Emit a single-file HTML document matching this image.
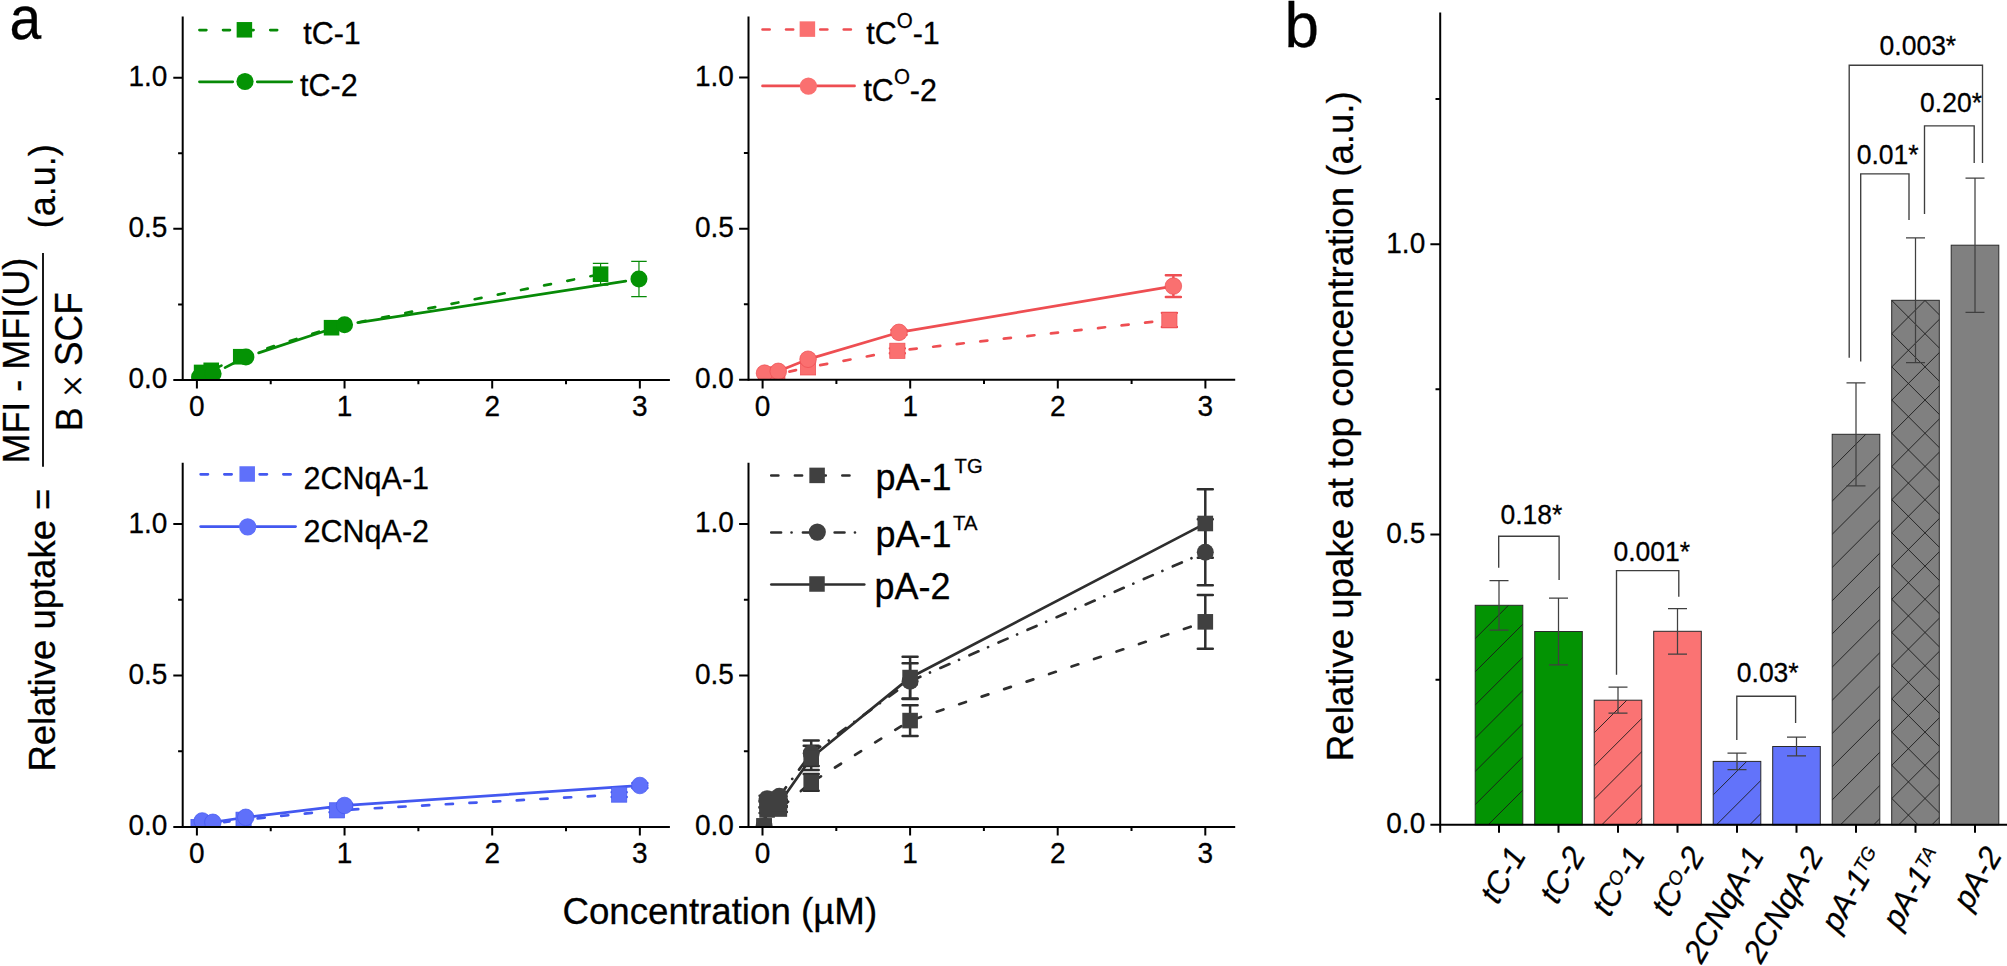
<!DOCTYPE html>
<html lang="en"><head><meta charset="utf-8"><title>Relative uptake figure</title>
<style>html,body{margin:0;padding:0;background:#fff}body{width:2007px;height:966px;overflow:hidden}svg{display:block}text{font-family:'Liberation Sans', Arial, sans-serif;fill:#000;stroke:#000;stroke-width:0.28px}</style>
</head><body>
<svg width="2007" height="966" viewBox="0 0 2007 966">
<rect width="2007" height="966" fill="#fff"/>
<defs>
<clipPath id="ctl"><rect x="182.7" y="16.4" width="507.2" height="362.8"/></clipPath>
<clipPath id="ctr"><rect x="748.5" y="16.4" width="506.7" height="362.6"/></clipPath>
<clipPath id="cbl"><rect x="182.7" y="462.7" width="507.2" height="363.5"/></clipPath>
<clipPath id="cbr"><rect x="748.5" y="462.7" width="506.7" height="363.4"/></clipPath>
</defs>
<text transform="translate(9.6 39.2) scale(0.92 1)" font-size="62">a</text>
<text transform="translate(1284.4 46.6) scale(1 1.02)" font-size="62">b</text>
<g font-size="36">
<text transform="translate(54.7 771.6) rotate(-90) scale(1 1.02)" font-size="36.5">Relative uptake =</text>
<text transform="translate(29.2 463.6) rotate(-90) scale(1 1.04)">MFI - MFI(U)</text>
<text transform="translate(81.5 431.2) rotate(-90) scale(1 1.04)" font-size="36">B <tspan font-family="'Liberation Serif', serif" font-size="40" dx="0" dy="4.8">×</tspan><tspan dx="-1.7" dy="-4.8" font-size="36.9"> SCF</tspan></text>
<text transform="translate(54.7 228.2) rotate(-90) scale(1 1.02)">(a.u.)</text>
</g>
<path d="M43 252.9V466.8" stroke="#000" stroke-width="1.8"/>
<text transform="translate(719.8 924.4) scale(1 1.02)" font-size="36.7" text-anchor="middle">Concentration (µM)</text>
<g clip-path="url(#ctl)">
<line x1="205.87" y1="371.51" x2="206.97" y2="371.26" stroke="#078a07" stroke-width="2.7" stroke-linecap="round" stroke-dasharray="6.9 16.7"/>
<line x1="215.17" y1="368.51" x2="236.8" y2="358.54" stroke="#078a07" stroke-width="2.7" stroke-linecap="round" stroke-dasharray="6.9 16.7"/>
<line x1="244.9" y1="355.4" x2="327.41" y2="329.03" stroke="#078a07" stroke-width="2.7" stroke-linecap="round" stroke-dasharray="6.9 16.7"/>
<line x1="335.82" y1="326.85" x2="596.31" y2="275.04" stroke="#078a07" stroke-width="2.7" stroke-linecap="round" stroke-dasharray="6.9 16.7"/>
<line x1="225.05" y1="367.61" x2="234.01" y2="363.06" stroke="#078a07" stroke-width="2.7" stroke-linecap="round"/>
<line x1="258.61" y1="352.87" x2="331.86" y2="328.84" stroke="#078a07" stroke-width="2.7" stroke-linecap="round"/>
<line x1="357.74" y1="322.63" x2="625.77" y2="281.08" stroke="#078a07" stroke-width="2.7" stroke-linecap="round"/>
<path d="M600.58 263.31V285.08M592.83 263.31h15.5M592.83 285.08h15.5" stroke="#078a07" stroke-width="1.2" fill="none"/>
<path d="M638.96 261.35V296.72M631.21 261.35h15.5M631.21 296.72h15.5" stroke="#078a07" stroke-width="1.2" fill="none"/>
<rect x="193.82" y="364.64" width="15.6" height="15.6" fill="#049304"/>
<rect x="203.42" y="362.53" width="15.6" height="15.6" fill="#049304"/>
<rect x="232.95" y="348.92" width="15.6" height="15.6" fill="#049304"/>
<rect x="323.76" y="319.9" width="15.6" height="15.6" fill="#049304"/>
<rect x="592.78" y="266.39" width="15.6" height="15.6" fill="#049304"/>
<circle cx="199.56" cy="376.98" r="8.5" fill="#049304"/>
<circle cx="213.14" cy="373.65" r="8.5" fill="#049304"/>
<circle cx="245.92" cy="357.03" r="8.5" fill="#049304"/>
<circle cx="344.55" cy="324.68" r="8.5" fill="#049304"/>
<circle cx="638.96" cy="279.03" r="8.5" fill="#049304"/>
</g>
<g stroke="#000" stroke-width="2" fill="none">
<path d="M182.7 16.4V381"/>
<path d="M173.3 380H669.9"/>
<path d="M173.3 228.85H182.7M173.3 77.7H182.7M178.1 304.43H182.7M178.1 153.27H182.7M196.9 380V388.6M344.55 380V388.6M492.2 380V388.6M639.85 380V388.6M270.73 380V384.2M418.38 380V384.2M566.02 380V384.2"/>
</g>
<g font-size="28" text-anchor="end">
<text transform="translate(167.4 388.4) scale(1 1.04)">0.0</text>
<text transform="translate(167.4 237.25) scale(1 1.04)">0.5</text>
<text transform="translate(167.4 86.1) scale(1 1.04)">1.0</text>
</g>
<g font-size="28" text-anchor="middle">
<text transform="translate(196.9 416.1) scale(1 1.04)">0</text>
<text transform="translate(344.55 416.1) scale(1 1.04)">1</text>
<text transform="translate(492.2 416.1) scale(1 1.04)">2</text>
<text transform="translate(639.85 416.1) scale(1 1.04)">3</text>
</g>
<line x1="199.45" y1="30.1" x2="277.85" y2="30.1" stroke="#078a07" stroke-width="2.7" stroke-linecap="round" stroke-dasharray="6.9 16.7"/>
<rect x="236.65" y="22.05" width="15.5" height="15.5" fill="#049304"/>
<path d="M199.45 81.8H232.75M257.25 81.8H291.75" stroke="#078a07" stroke-width="2.7" stroke-linecap="round" fill="none"/>
<circle cx="245" cy="81.5" r="8.6" fill="#049304"/>
<g font-size="30.5">
<text transform="translate(303.2 44.4) scale(1 1.04)">tC-1</text>
<text transform="translate(300 95.9) scale(1 1.04)">tC-2</text>
</g>
<g clip-path="url(#ctr)">
<line x1="789.4" y1="371.63" x2="796.02" y2="370.13" stroke="#ee4e52" stroke-width="2.7" stroke-linecap="round" stroke-dasharray="7.1 16.6"/>
<line x1="820.2" y1="365.15" x2="885.22" y2="353.04" stroke="#ee4e52" stroke-width="2.7" stroke-linecap="round" stroke-dasharray="7.1 16.6"/>
<line x1="909.63" y1="349.39" x2="1157.11" y2="321.34" stroke="#ee4e52" stroke-width="2.7" stroke-linecap="round" stroke-dasharray="7.1 16.6"/>
<line x1="765.86" y1="372.97" x2="776.91" y2="371.51" stroke="#ee4e52" stroke-width="2.7" stroke-linecap="round"/>
<line x1="779.5" y1="370.83" x2="806.81" y2="359.75" stroke="#ee4e52" stroke-width="2.7" stroke-linecap="round"/>
<line x1="809.36" y1="358.86" x2="897.69" y2="332.72" stroke="#ee4e52" stroke-width="2.7" stroke-linecap="round"/>
<line x1="900.31" y1="332.11" x2="1172.04" y2="286.31" stroke="#ee4e52" stroke-width="2.7" stroke-linecap="round"/>
<path d="M897.36 348.36V353.2M889.81 348.36h15.1M889.81 353.2h15.1M1169.39 312.84V327.05M1161.84 312.84h15.1M1161.84 327.05h15.1" stroke="#ee4e52" stroke-width="2.4" fill="none" stroke-linecap="round"/>
<path d="M898.98 329.92V334.76M891.43 329.92h15.1M891.43 334.76h15.1M1173.37 275.2V296.97M1165.82 275.2h15.1M1165.82 296.97h15.1" stroke="#ee4e52" stroke-width="2.4" fill="none" stroke-linecap="round"/>
<rect x="758.25" y="368.57" width="15.2" height="15.2" fill="#fa7070" stroke="#ee4e52" stroke-width="0.7"/>
<rect x="769.76" y="366.76" width="15.2" height="15.2" fill="#fa7070" stroke="#ee4e52" stroke-width="0.7"/>
<rect x="800.46" y="359.81" width="15.2" height="15.2" fill="#fa7070" stroke="#ee4e52" stroke-width="0.7"/>
<rect x="889.76" y="343.18" width="15.2" height="15.2" fill="#fa7070" stroke="#ee4e52" stroke-width="0.7"/>
<rect x="1161.79" y="312.34" width="15.2" height="15.2" fill="#fa7070" stroke="#ee4e52" stroke-width="0.7"/>
<circle cx="764.52" cy="373.15" r="8.3" fill="#fa7070" stroke="#ee4e52" stroke-width="0.7"/>
<circle cx="778.25" cy="371.34" r="8.3" fill="#fa7070" stroke="#ee4e52" stroke-width="0.7"/>
<circle cx="808.06" cy="359.24" r="8.3" fill="#fa7070" stroke="#ee4e52" stroke-width="0.7"/>
<circle cx="898.98" cy="332.34" r="8.3" fill="#fa7070" stroke="#ee4e52" stroke-width="0.7"/>
<circle cx="1173.37" cy="286.09" r="8.3" fill="#fa7070" stroke="#ee4e52" stroke-width="0.7"/>
</g>
<g stroke="#000" stroke-width="2" fill="none">
<path d="M748.5 16.4V380.8"/>
<path d="M739.1 379.8H1235.2"/>
<path d="M739.1 228.65H748.5M739.1 77.5H748.5M743.9 304.23H748.5M743.9 153.07H748.5M762.6 379.8V388.4M910.2 379.8V388.4M1057.8 379.8V388.4M1205.4 379.8V388.4M836.4 379.8V384M984 379.8V384M1131.6 379.8V384"/>
</g>
<g font-size="28" text-anchor="end">
<text transform="translate(733.8 388.2) scale(1 1.04)">0.0</text>
<text transform="translate(733.8 237.05) scale(1 1.04)">0.5</text>
<text transform="translate(733.8 85.9) scale(1 1.04)">1.0</text>
</g>
<g font-size="28" text-anchor="middle">
<text transform="translate(762.6 415.9) scale(1 1.04)">0</text>
<text transform="translate(910.2 415.9) scale(1 1.04)">1</text>
<text transform="translate(1057.8 415.9) scale(1 1.04)">2</text>
<text transform="translate(1205.4 415.9) scale(1 1.04)">3</text>
</g>
<path d="M762.55 29.5H794.55M820.25 29.5H851.25" stroke="#ee4e52" stroke-width="2.7" stroke-linecap="round" fill="none" stroke-dasharray="7.1 16.4"/>
<rect x="799.65" y="21.35" width="15.5" height="15.5" fill="#fa7070"/>
<line x1="762.55" y1="85.9" x2="854.55" y2="85.9" stroke="#ee4e52" stroke-width="2.7" stroke-linecap="round"/>
<circle cx="808.4" cy="86.2" r="8.6" fill="#fa7070"/>
<g font-size="30.5">
<text transform="translate(866.2 44.4) scale(1 1.04)">tC<tspan font-size="20.5" dy="-15.8">O</tspan><tspan dy="15.8">-1</tspan></text>
<text transform="translate(863.4 100.5) scale(1 1.04)">tC<tspan font-size="20.5" dy="-15.8">O</tspan><tspan dy="15.8">-2</tspan></text>
</g>
<g clip-path="url(#cbl)">
<line x1="224.23" y1="822.19" x2="229.52" y2="821.51" stroke="#4358f0" stroke-width="2.7" stroke-linecap="round" stroke-dasharray="7.1 16.6"/>
<line x1="257.64" y1="818.32" x2="322.94" y2="811.75" stroke="#4358f0" stroke-width="2.7" stroke-linecap="round" stroke-dasharray="7.1 16.6"/>
<line x1="351.15" y1="809.55" x2="605.05" y2="795.38" stroke="#4358f0" stroke-width="2.7" stroke-linecap="round" stroke-dasharray="7.1 16.6"/>
<line x1="203.55" y1="821.11" x2="211.51" y2="822.13" stroke="#4358f0" stroke-width="2.7" stroke-linecap="round"/>
<line x1="214.18" y1="822.1" x2="244.44" y2="817.51" stroke="#4358f0" stroke-width="2.7" stroke-linecap="round"/>
<line x1="247.11" y1="817.15" x2="343.21" y2="805.65" stroke="#4358f0" stroke-width="2.7" stroke-linecap="round"/>
<line x1="345.9" y1="805.4" x2="638.5" y2="785.59" stroke="#4358f0" stroke-width="2.7" stroke-linecap="round"/>
<path d="M337.02 808.52V812.16M329.47 808.52h15.1M329.47 812.16h15.1M619.18 792.17V797.01M611.63 792.17h15.1M611.63 797.01h15.1" stroke="#4358f0" stroke-width="2.4" fill="none" stroke-linecap="round"/>
<path d="M344.55 803.68V807.31M337 803.68h15.1M337 807.31h15.1M639.85 783.08V787.93M632.3 783.08h15.1M632.3 787.93h15.1" stroke="#4358f0" stroke-width="2.4" fill="none" stroke-linecap="round"/>
<rect x="190.92" y="819.4" width="15.2" height="15.2" fill="#5f70fa" stroke="#4358f0" stroke-width="0.7"/>
<rect x="202.59" y="816.37" width="15.2" height="15.2" fill="#5f70fa" stroke="#4358f0" stroke-width="0.7"/>
<rect x="235.96" y="812.13" width="15.2" height="15.2" fill="#5f70fa" stroke="#4358f0" stroke-width="0.7"/>
<rect x="329.42" y="802.74" width="15.2" height="15.2" fill="#5f70fa" stroke="#4358f0" stroke-width="0.7"/>
<rect x="611.58" y="786.99" width="15.2" height="15.2" fill="#5f70fa" stroke="#4358f0" stroke-width="0.7"/>
<circle cx="202.22" cy="820.94" r="8.3" fill="#5f70fa" stroke="#4358f0" stroke-width="0.7"/>
<circle cx="212.85" cy="822.31" r="8.3" fill="#5f70fa" stroke="#4358f0" stroke-width="0.7"/>
<circle cx="245.77" cy="817.31" r="8.3" fill="#5f70fa" stroke="#4358f0" stroke-width="0.7"/>
<circle cx="344.55" cy="805.49" r="8.3" fill="#5f70fa" stroke="#4358f0" stroke-width="0.7"/>
<circle cx="639.85" cy="785.5" r="8.3" fill="#5f70fa" stroke="#4358f0" stroke-width="0.7"/>
</g>
<g stroke="#000" stroke-width="2" fill="none">
<path d="M182.7 462.7V828"/>
<path d="M173.3 827H669.9"/>
<path d="M173.3 675.55H182.7M173.3 524.1H182.7M178.1 751.27H182.7M178.1 599.83H182.7M196.9 827V835.6M344.55 827V835.6M492.2 827V835.6M639.85 827V835.6M270.73 827V831.2M418.38 827V831.2M566.02 827V831.2"/>
</g>
<g font-size="28" text-anchor="end">
<text transform="translate(167.4 835.4) scale(1 1.04)">0.0</text>
<text transform="translate(167.4 683.95) scale(1 1.04)">0.5</text>
<text transform="translate(167.4 532.5) scale(1 1.04)">1.0</text>
</g>
<g font-size="28" text-anchor="middle">
<text transform="translate(196.9 863.1) scale(1 1.04)">0</text>
<text transform="translate(344.55 863.1) scale(1 1.04)">1</text>
<text transform="translate(492.2 863.1) scale(1 1.04)">2</text>
<text transform="translate(639.85 863.1) scale(1 1.04)">3</text>
</g>
<path d="M200.65 474.3H234.75M259.65 474.3H291.15" stroke="#4358f0" stroke-width="2.7" stroke-linecap="round" fill="none" stroke-dasharray="7.3 16.4"/>
<rect x="239.45" y="466.25" width="15.5" height="15.5" fill="#5f70fa"/>
<line x1="200.65" y1="526.6" x2="295.55" y2="526.6" stroke="#4358f0" stroke-width="2.7" stroke-linecap="round"/>
<circle cx="247.7" cy="526.8" r="8.6" fill="#5f70fa"/>
<g font-size="30.5">
<text transform="translate(303.6 488.6) scale(1 1.04)">2CNqA-1</text>
<text transform="translate(303.6 541.8) scale(1 1.04)">2CNqA-2</text>
</g>
<g clip-path="url(#cbr)">
<line x1="764.91" y1="821.71" x2="766.29" y2="814.22" stroke="#2e2e2e" stroke-width="2.7" stroke-linecap="round" stroke-dasharray="7.1 16.6"/>
<line x1="771.41" y1="809.62" x2="774.99" y2="809.35" stroke="#2e2e2e" stroke-width="2.7" stroke-linecap="round" stroke-dasharray="7.1 16.6"/>
<line x1="782.66" y1="806.24" x2="807.87" y2="785.16" stroke="#2e2e2e" stroke-width="2.7" stroke-linecap="round" stroke-dasharray="7.1 16.6"/>
<line x1="814.9" y1="780.07" x2="906.41" y2="722.89" stroke="#2e2e2e" stroke-width="2.7" stroke-linecap="round" stroke-dasharray="7.1 16.6"/>
<line x1="914.23" y1="719.2" x2="1201.17" y2="623.22" stroke="#2e2e2e" stroke-width="2.7" stroke-linecap="round" stroke-dasharray="7.1 16.6"/>
<line x1="764.27" y1="824.65" x2="766.93" y2="800.07" stroke="#2e2e2e" stroke-width="2.7" stroke-linecap="round" stroke-dasharray="9.8 10.5 0.01 11.4"/>
<line x1="768.4" y1="798.46" x2="778" y2="796.49" stroke="#2e2e2e" stroke-width="2.7" stroke-linecap="round" stroke-dasharray="9.8 10.5 0.01 11.4"/>
<line x1="780.13" y1="795.13" x2="810.4" y2="754.38" stroke="#2e2e2e" stroke-width="2.7" stroke-linecap="round" stroke-dasharray="9.8 10.5 0.01 11.4"/>
<line x1="812.3" y1="752.5" x2="909.01" y2="682" stroke="#2e2e2e" stroke-width="2.7" stroke-linecap="round" stroke-dasharray="9.8 10.5 0.01 11.4"/>
<line x1="911.34" y1="680.66" x2="1204.06" y2="552.71" stroke="#2e2e2e" stroke-width="2.7" stroke-linecap="round" stroke-dasharray="9.8 10.5 0.01 11.4"/>
<line x1="764.3" y1="824.65" x2="766.89" y2="805.52" stroke="#2e2e2e" stroke-width="2.7" stroke-linecap="round"/>
<line x1="768.42" y1="804.08" x2="777.98" y2="803.37" stroke="#2e2e2e" stroke-width="2.7" stroke-linecap="round"/>
<line x1="780.1" y1="802.17" x2="810.43" y2="758.94" stroke="#2e2e2e" stroke-width="2.7" stroke-linecap="round"/>
<line x1="812.26" y1="756.99" x2="909.05" y2="678.42" stroke="#2e2e2e" stroke-width="2.7" stroke-linecap="round"/>
<line x1="911.3" y1="676.95" x2="1204.1" y2="524.11" stroke="#2e2e2e" stroke-width="2.7" stroke-linecap="round"/>
<path d="M767.08 806.91V812.97M759.58 806.91h15M759.58 812.97h15M779.33 806V812.06M771.83 806h15M771.83 812.06h15M811.21 773.89V790.85M803.71 773.89h15M803.71 790.85h15M910.1 705.13V736.03M902.6 705.13h15M902.6 736.03h15M1205.3 595.03V648.64M1197.8 595.03h15M1197.8 648.64h15" stroke="#2e2e2e" stroke-width="2.5" fill="none" stroke-linecap="round"/>
<path d="M767.08 795.7V801.76M759.58 795.7h15M759.58 801.76h15M779.33 792.58V799.85M771.83 792.58h15M771.83 799.85h15M811.21 740.57V766.02M803.71 740.57h15M803.71 766.02h15M910.1 663.33V699.08M902.6 663.33h15M902.6 699.08h15M1205.3 519.15V585.19M1197.8 519.15h15M1197.8 585.19h15" stroke="#2e2e2e" stroke-width="2.5" fill="none" stroke-linecap="round"/>
<path d="M767.08 800.55V807.82M759.58 800.55h15M759.58 807.82h15M779.33 799.64V806.91M771.83 799.64h15M771.83 806.91h15M811.21 745.72V769.95M803.71 745.72h15M803.71 769.95h15M910.1 656.67V698.47M902.6 656.67h15M902.6 698.47h15M1205.3 489.26V557.71M1197.8 489.26h15M1197.8 557.71h15" stroke="#2e2e2e" stroke-width="2.5" fill="none" stroke-linecap="round"/>
<rect x="756.32" y="818.19" width="15.6" height="15.6" fill="#404040"/>
<rect x="759.28" y="802.14" width="15.6" height="15.6" fill="#404040"/>
<rect x="771.53" y="801.23" width="15.6" height="15.6" fill="#404040"/>
<rect x="803.41" y="774.57" width="15.6" height="15.6" fill="#404040"/>
<rect x="902.3" y="712.78" width="15.6" height="15.6" fill="#404040"/>
<rect x="1197.5" y="614.04" width="15.6" height="15.6" fill="#404040"/>
<circle cx="764.12" cy="825.99" r="8.5" fill="#404040"/>
<circle cx="767.08" cy="798.73" r="8.5" fill="#404040"/>
<circle cx="779.33" cy="796.22" r="8.5" fill="#404040"/>
<circle cx="811.21" cy="753.3" r="8.5" fill="#404040"/>
<circle cx="910.1" cy="681.21" r="8.5" fill="#404040"/>
<circle cx="1205.3" cy="552.17" r="8.5" fill="#404040"/>
<rect x="756.32" y="818.19" width="15.6" height="15.6" fill="#404040"/>
<rect x="759.28" y="796.38" width="15.6" height="15.6" fill="#404040"/>
<rect x="771.53" y="795.47" width="15.6" height="15.6" fill="#404040"/>
<rect x="803.41" y="750.04" width="15.6" height="15.6" fill="#404040"/>
<rect x="902.3" y="669.77" width="15.6" height="15.6" fill="#404040"/>
<rect x="1197.5" y="515.69" width="15.6" height="15.6" fill="#404040"/>
</g>
<g stroke="#000" stroke-width="2" fill="none">
<path d="M748.5 462.7V827.9"/>
<path d="M739.1 826.9H1235.2"/>
<path d="M739.1 675.45H748.5M739.1 524H748.5M743.9 751.17H748.5M743.9 599.73H748.5M762.5 826.9V835.5M910.1 826.9V835.5M1057.7 826.9V835.5M1205.3 826.9V835.5M836.3 826.9V831.1M983.9 826.9V831.1M1131.5 826.9V831.1"/>
</g>
<g font-size="28" text-anchor="end">
<text transform="translate(733.8 835.3) scale(1 1.04)">0.0</text>
<text transform="translate(733.8 683.85) scale(1 1.04)">0.5</text>
<text transform="translate(733.8 532.4) scale(1 1.04)">1.0</text>
</g>
<g font-size="28" text-anchor="middle">
<text transform="translate(762.5 863) scale(1 1.04)">0</text>
<text transform="translate(910.1 863) scale(1 1.04)">1</text>
<text transform="translate(1057.7 863) scale(1 1.04)">2</text>
<text transform="translate(1205.3 863) scale(1 1.04)">3</text>
</g>
<line x1="771.25" y1="475.5" x2="849.95" y2="475.5" stroke="#2e2e2e" stroke-width="2.7" stroke-linecap="round" stroke-dasharray="7.1 16.6"/>
<rect x="809.35" y="467.65" width="15.5" height="15.5" fill="#404040"/>
<line x1="771.25" y1="532.5" x2="864.65" y2="532.5" stroke="#2e2e2e" stroke-width="2.7" stroke-linecap="round" stroke-dasharray="9.8 10.5 0.01 11.4"/>
<circle cx="817.3" cy="532.1" r="8.6" fill="#404040"/>
<line x1="771.35" y1="584.5" x2="864.25" y2="584.5" stroke="#2e2e2e" stroke-width="2.7" stroke-linecap="round"/>
<rect x="809.25" y="576.25" width="15.5" height="15.5" fill="#404040"/>
<g font-size="36">
<text transform="translate(875.6 490) scale(1 1.04)">pA-1<tspan font-size="20.2" dx="3" dy="-16.6">TG</tspan></text>
<text transform="translate(875.6 547.3) scale(1 1.04)">pA-1<tspan font-size="20.2" dx="1.5" dy="-16.9">TA</tspan></text>
<text transform="translate(874.4 598.6) scale(1 1.04)">pA-2</text>
</g>
<defs>
<clipPath id="b0"><rect x="1475.2" y="605.3" width="47.6" height="219.5"/></clipPath>
<clipPath id="b1"><rect x="1534.7" y="631.5" width="47.6" height="193.3"/></clipPath>
<clipPath id="b2"><rect x="1594.2" y="700.2" width="47.6" height="124.6"/></clipPath>
<clipPath id="b3"><rect x="1653.7" y="631.3" width="47.6" height="193.5"/></clipPath>
<clipPath id="b4"><rect x="1713.2" y="761.4" width="47.6" height="63.4"/></clipPath>
<clipPath id="b5"><rect x="1772.7" y="746.5" width="47.6" height="78.3"/></clipPath>
<clipPath id="b6"><rect x="1832.2" y="434.3" width="47.6" height="390.5"/></clipPath>
<clipPath id="b7"><rect x="1891.7" y="300.3" width="47.6" height="524.5"/></clipPath>
<clipPath id="b8"><rect x="1951.2" y="245.2" width="47.6" height="579.6"/></clipPath>
</defs>
<rect x="1475.2" y="605.3" width="47.6" height="219.5" fill="#039303"/>
<path d="M1473.2 541L1524.8 489.4M1473.2 574.2L1524.8 522.6M1473.2 607.4L1524.8 555.8M1473.2 640.6L1524.8 589M1473.2 673.8L1524.8 622.2M1473.2 707L1524.8 655.4M1473.2 740.2L1524.8 688.6M1473.2 773.4L1524.8 721.8M1473.2 806.6L1524.8 755M1473.2 839.8L1524.8 788.2M1473.2 873L1524.8 821.4M1473.2 906.2L1524.8 854.6M1473.2 939.4L1524.8 887.8" stroke="#1c1c1c" stroke-width="0.9" fill="none" clip-path="url(#b0)"/>
<rect x="1475.2" y="605.3" width="47.6" height="219.5" fill="none" stroke="#2a2a2a" stroke-width="1"/>
<rect x="1534.7" y="631.5" width="47.6" height="193.3" fill="#039303"/>
<rect x="1534.7" y="631.5" width="47.6" height="193.3" fill="none" stroke="#2a2a2a" stroke-width="1"/>
<rect x="1594.2" y="700.2" width="47.6" height="124.6" fill="#fa7373"/>
<path d="M1592.2 668.4L1643.8 616.8M1592.2 701.6L1643.8 650M1592.2 734.8L1643.8 683.2M1592.2 768L1643.8 716.4M1592.2 801.2L1643.8 749.6M1592.2 834.4L1643.8 782.8M1592.2 867.6L1643.8 816M1592.2 900.8L1643.8 849.2M1592.2 934L1643.8 882.4" stroke="#1c1c1c" stroke-width="0.9" fill="none" clip-path="url(#b2)"/>
<rect x="1594.2" y="700.2" width="47.6" height="124.6" fill="none" stroke="#2a2a2a" stroke-width="1"/>
<rect x="1653.7" y="631.3" width="47.6" height="193.5" fill="#fa7373"/>
<rect x="1653.7" y="631.3" width="47.6" height="193.5" fill="none" stroke="#2a2a2a" stroke-width="1"/>
<rect x="1713.2" y="761.4" width="47.6" height="63.4" fill="#6273fa"/>
<path d="M1711.2 697.3L1762.8 645.7M1711.2 730.5L1762.8 678.9M1711.2 763.7L1762.8 712.1M1711.2 796.9L1762.8 745.3M1711.2 830.1L1762.8 778.5M1711.2 863.3L1762.8 811.7M1711.2 896.5L1762.8 844.9M1711.2 929.7L1762.8 878.1" stroke="#1c1c1c" stroke-width="0.9" fill="none" clip-path="url(#b4)"/>
<rect x="1713.2" y="761.4" width="47.6" height="63.4" fill="none" stroke="#2a2a2a" stroke-width="1"/>
<rect x="1772.7" y="746.5" width="47.6" height="78.3" fill="#6273fa"/>
<rect x="1772.7" y="746.5" width="47.6" height="78.3" fill="none" stroke="#2a2a2a" stroke-width="1"/>
<rect x="1832.2" y="434.3" width="47.6" height="390.5" fill="#808080"/>
<path d="M1830.2 370.3L1881.8 318.7M1830.2 403.5L1881.8 351.9M1830.2 436.7L1881.8 385.1M1830.2 469.9L1881.8 418.3M1830.2 503.1L1881.8 451.5M1830.2 536.3L1881.8 484.7M1830.2 569.5L1881.8 517.9M1830.2 602.7L1881.8 551.1M1830.2 635.9L1881.8 584.3M1830.2 669.1L1881.8 617.5M1830.2 702.3L1881.8 650.7M1830.2 735.5L1881.8 683.9M1830.2 768.7L1881.8 717.1M1830.2 801.9L1881.8 750.3M1830.2 835.1L1881.8 783.5M1830.2 868.3L1881.8 816.7M1830.2 901.5L1881.8 849.9M1830.2 934.7L1881.8 883.1" stroke="#1c1c1c" stroke-width="0.9" fill="none" clip-path="url(#b6)"/>
<rect x="1832.2" y="434.3" width="47.6" height="390.5" fill="none" stroke="#2a2a2a" stroke-width="1"/>
<rect x="1891.7" y="300.3" width="47.6" height="524.5" fill="#808080"/>
<path d="M1889.7 236.2L1941.3 184.6M1889.7 269.4L1941.3 217.8M1889.7 302.6L1941.3 251M1889.7 335.8L1941.3 284.2M1889.7 369L1941.3 317.4M1889.7 402.2L1941.3 350.6M1889.7 435.4L1941.3 383.8M1889.7 468.6L1941.3 417M1889.7 501.8L1941.3 450.2M1889.7 535L1941.3 483.4M1889.7 568.2L1941.3 516.6M1889.7 601.4L1941.3 549.8M1889.7 634.6L1941.3 583M1889.7 667.8L1941.3 616.2M1889.7 701L1941.3 649.4M1889.7 734.2L1941.3 682.6M1889.7 767.4L1941.3 715.8M1889.7 800.6L1941.3 749M1889.7 833.8L1941.3 782.2M1889.7 867L1941.3 815.4M1889.7 900.2L1941.3 848.6M1889.7 933.4L1941.3 881.8M1889.7 862.8L1941.3 914.4M1889.7 829.6L1941.3 881.2M1889.7 796.4L1941.3 848M1889.7 763.2L1941.3 814.8M1889.7 730L1941.3 781.6M1889.7 696.8L1941.3 748.4M1889.7 663.6L1941.3 715.2M1889.7 630.4L1941.3 682M1889.7 597.2L1941.3 648.8M1889.7 564L1941.3 615.6M1889.7 530.8L1941.3 582.4M1889.7 497.6L1941.3 549.2M1889.7 464.4L1941.3 516M1889.7 431.2L1941.3 482.8M1889.7 398L1941.3 449.6M1889.7 364.8L1941.3 416.4M1889.7 331.6L1941.3 383.2M1889.7 298.4L1941.3 350M1889.7 265.2L1941.3 316.8M1889.7 232L1941.3 283.6M1889.7 198.8L1941.3 250.4" stroke="#1c1c1c" stroke-width="0.9" fill="none" clip-path="url(#b7)"/>
<rect x="1891.7" y="300.3" width="47.6" height="524.5" fill="none" stroke="#2a2a2a" stroke-width="1"/>
<rect x="1951.2" y="245.2" width="47.6" height="579.6" fill="#808080"/>
<rect x="1951.2" y="245.2" width="47.6" height="579.6" fill="none" stroke="#2a2a2a" stroke-width="1"/>
<path d="M1499 580.6V630M1489.5 580.6h19M1489.5 630h19M1558.5 598.2V664.8M1549 598.2h19M1549 664.8h19M1618 687.2V713.2M1608.5 687.2h19M1608.5 713.2h19M1677.5 608.5V654.1M1668 608.5h19M1668 654.1h19M1737 753.2V769.6M1727.5 753.2h19M1727.5 769.6h19M1796.5 737.1V755.9M1787 737.1h19M1787 755.9h19M1856 382.8V485.8M1846.5 382.8h19M1846.5 485.8h19M1915.5 237.9V362.7M1906 237.9h19M1906 362.7h19M1975 178V312.4M1965.5 178h19M1965.5 312.4h19" stroke="#404040" stroke-width="1.25" fill="none"/>
<g stroke="#000" stroke-width="2" fill="none">
<path d="M1440.2 12.5V832.8"/>
<path d="M1430.4 824.8H2007"/>
<path d="M1430.4 534.5H1440.2M1430.4 244.2H1440.2M1435.5 679.65H1440.2M1435.5 389.35H1440.2M1435.5 99.05H1440.2M1499 824.8V832.8M1558.5 824.8V832.8M1618 824.8V832.8M1677.5 824.8V832.8M1737 824.8V832.8M1796.5 824.8V832.8M1856 824.8V832.8M1915.5 824.8V832.8M1975 824.8V832.8"/>
</g>
<g font-size="28" text-anchor="end">
<text transform="translate(1425.2 833.2) scale(1 1.04)">0.0</text>
<text transform="translate(1425.2 542.9) scale(1 1.04)">0.5</text>
<text transform="translate(1425.2 252.6) scale(1 1.04)">1.0</text>
</g>
<text transform="translate(1352.5 761.2) rotate(-90) scale(1 1.02)" font-size="36.65">Relative upake at top concentration (a.u.)</text>
<g stroke="#3e3e3e" stroke-width="1.35" fill="none">
<path d="M1498.7 567.7V536.2H1559.1V580"/>
<path d="M1616.5 674.8V570.6H1678.8V596.8"/>
<path d="M1736.8 740V696.2H1795.6V722.9"/>
<path d="M1860.7 361.4V173.8H1909V220.1"/>
<path d="M1924.5 214.1V125.8H1974.2V163"/>
<path d="M1849.2 357.8V65.2H1982.5V163"/>
</g>
<g font-size="26.5">
<text transform="translate(1500.4 524.3) scale(1 1.04)">0.18*</text>
<text transform="translate(1613.4 560.5) scale(1 1.04)">0.001*</text>
<text transform="translate(1736.8 682.1) scale(1 1.04)">0.03*</text>
<text transform="translate(1856.7 163.7) scale(1 1.04)">0.01*</text>
<text transform="translate(1920.1 112.1) scale(1 1.04)">0.20*</text>
<text transform="translate(1879.6 54.6) scale(1 1.04)">0.003*</text>
</g>
<g font-size="30.8" font-style="italic" text-anchor="end">
<text transform="translate(1526.8 855.2) rotate(-60) scale(1 1.04)">tC-1</text>
<text transform="translate(1586.3 855.2) rotate(-60) scale(1 1.04)">tC-2</text>
<text transform="translate(1645.8 855.2) rotate(-60) scale(1 1.04)">tC<tspan font-size="18.5" dy="-7.5">O</tspan><tspan dy="7.5">-1</tspan></text>
<text transform="translate(1705.3 855.2) rotate(-60) scale(1 1.04)">tC<tspan font-size="18.5" dy="-7.5">O</tspan><tspan dy="7.5">-2</tspan></text>
<text transform="translate(1764.8 855.2) rotate(-60) scale(1 1.04)">2CNqA-1</text>
<text transform="translate(1824.3 855.2) rotate(-60) scale(1 1.04)">2CNqA-2</text>
<text transform="translate(1883.8 855.2) rotate(-60) scale(1 1.04)">pA-1<tspan font-size="18.5" dy="-7.5">TG</tspan></text>
<text transform="translate(1943.3 855.2) rotate(-60) scale(1 1.04)">pA-1<tspan font-size="18.5" dy="-7.5">TA</tspan></text>
<text transform="translate(2002.8 855.2) rotate(-60) scale(1 1.04)">pA-2</text>
</g>
</svg>
</body></html>
